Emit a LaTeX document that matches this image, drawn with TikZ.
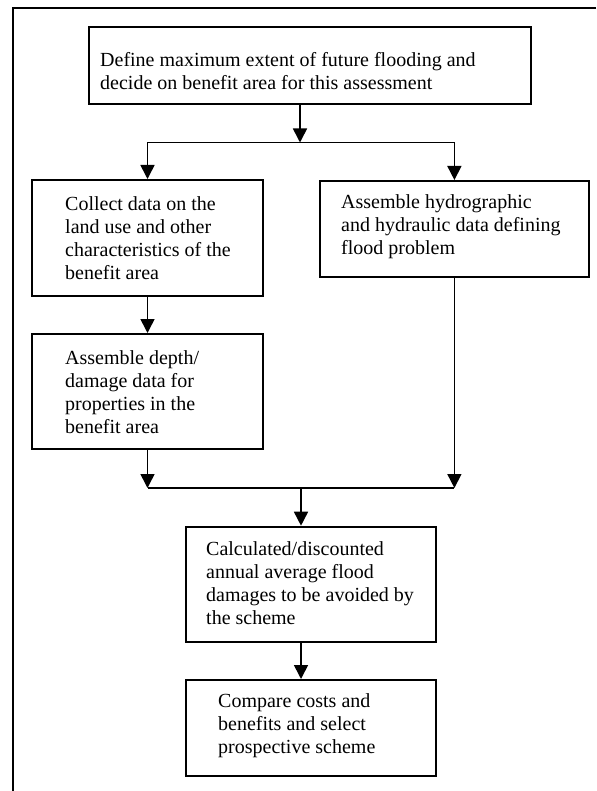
\documentclass[tikz,border=0pt]{standalone}
\usepackage{fontspec}
\setmainfont{Liberation Serif}
\usetikzlibrary{arrows.meta}

\tikzset{
  box/.style={draw, line width=2pt, rectangle, inner sep=0pt},
  txt/.style={anchor=west, align=left, inner sep=0pt,
              font=\fontsize{20}{23}\selectfont},
  link/.style={line width=1.6pt},
  flow/.style={link, -{Triangle[length=14pt,width=14pt]}},
  frame/.style={line width=2pt}
}

\begin{document}
\begin{tikzpicture}[x=1pt,y=-1pt]
\useasboundingbox (0,0) rectangle (596,791);

% outer frame (top and left edges)
\draw[frame] (596,8.3) -- (13,8.3) -- (13,791);

% boxes
\node[box, minimum width=442pt, minimum height=77pt] (define) at (310,65.5) {};
\node[txt] (definet) at (100,71) {Define maximum extent of future flooding and\\decide on benefit area for this assessment};

\node[box, minimum width=231pt, minimum height=116pt] (collect) at (147,238) {};
\node[txt] (collectt) at (65,238) {Collect data on the\\land use and other\\characteristics of the\\benefit area};

\node[box, minimum width=268.6pt, minimum height=96pt] (hydro) at (454.3,229) {};
\node[txt] (hydrot) at (341,227) {Assemble hydrographic\\and hydraulic data defining\\flood problem};

\node[box, minimum width=231pt, minimum height=115pt] (depth) at (147,391.5) {};
\node[txt] (deptht) at (65,392.5) {Assemble depth/\\damage data for\\properties in the\\benefit area};

\node[box, minimum width=250pt, minimum height=115pt] (calc) at (310.6,584.2) {};
\node[txt] (calct) at (206,583.5) {Calculated/discounted\\annual average flood\\damages to be avoided by\\the scheme};

\node[box, minimum width=250pt, minimum height=96pt] (compare) at (310.6,728) {};
\node[txt] (comparet) at (218,726) {Compare costs and\\benefits and select\\prospective scheme};

% junction points
\coordinate (split) at (300,142.5);
\coordinate (merge) at (301,488);
\coordinate (splitL) at (147.5,142.5);
\coordinate (splitR) at (454.4,142.5);
\coordinate (mergeL) at (147.5,488);
\coordinate (mergeR) at (454.4,488);

% connectors
\draw[flow] (define.south -| split) -- (split);
\draw[link] (splitL) -- (splitR);
\draw[flow] (splitL) -- (splitL |- collect.north);
\draw[flow] (splitR) -- (splitR |- hydro.north);

\draw[flow] (collect.south -| splitL) -- (splitL |- depth.north);

\draw[flow] (depth.south -| mergeL) -- (mergeL);
\draw[flow] (hydro.south -| mergeR) -- (mergeR);
\draw[link] (mergeL) -- (mergeR);
\draw[flow] (merge) -- (merge |- calc.north);

\draw[flow] (calc.south -| merge) -- (merge |- compare.north);
\end{tikzpicture}
\end{document}
